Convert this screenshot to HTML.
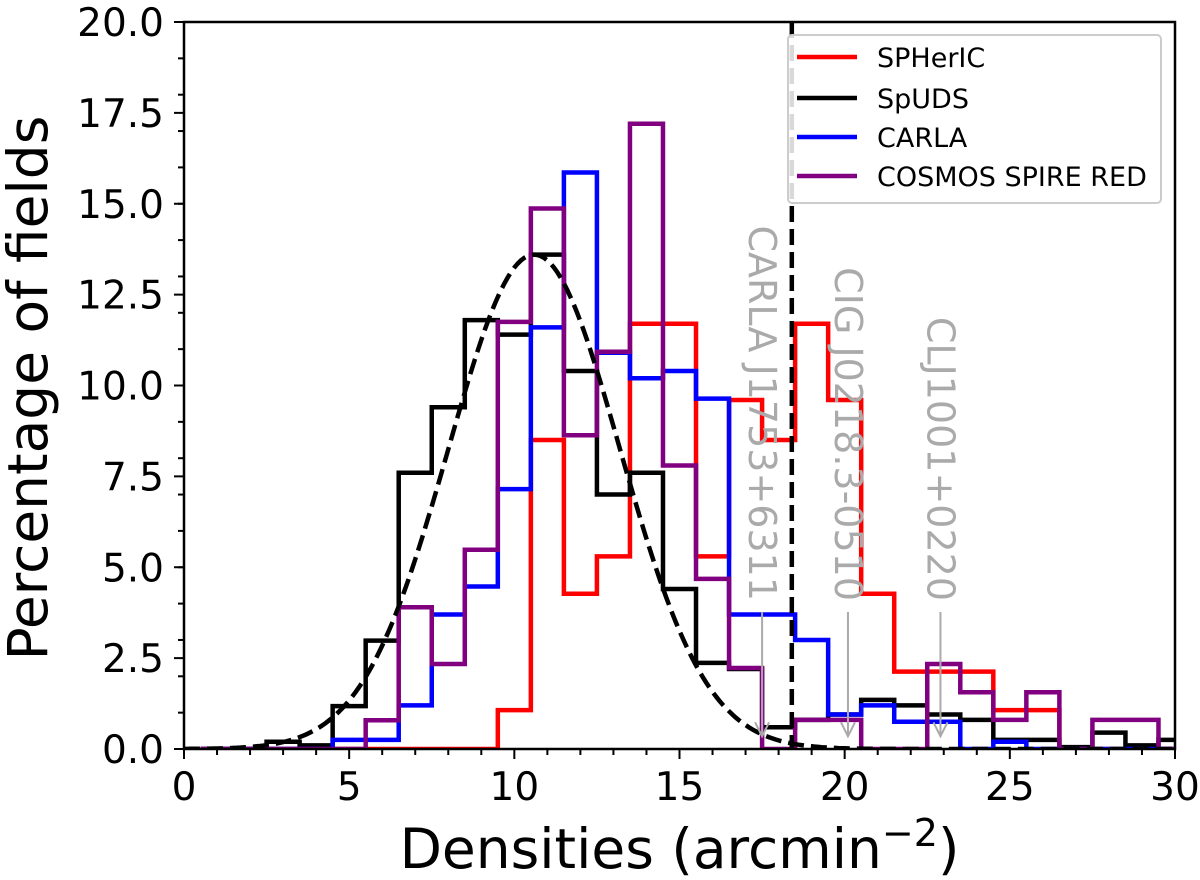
<!DOCTYPE html>
<html><head><meta charset="utf-8"><style>
html,body{margin:0;padding:0;background:#fff;}
svg{display:block;font-family:"DejaVu Sans","Liberation Sans",sans-serif;}
</style></head><body>
<svg id="chart" width="1200" height="880" viewBox="0 0 1200 880" xmlns="http://www.w3.org/2000/svg">
<g id="plot"></g>
</svg>
<script>
// bin left edges start at 0.5 with width 1
const binStart = 0.5;
const spheric = [0,0,0,0,0,0,0,0,0,1.07,8.5,4.27,5.3,11.7,11.7,5.3,9.6,8.5,11.7,9.6,4.27,2.13,2.13,2.13,1.07,1.07,0,0,0,0];
const spuds   = [0,0,0.2,0.1,1.18,2.98,7.6,9.4,11.8,11.4,13.6,10.4,7.0,7.6,4.4,2.37,2.2,0.6,0.8,0.95,1.35,1.2,0.95,0.8,0.25,0.25,0.05,0.45,0.1,0.25];
const carla   = [0,0,0,0,0.25,0.25,1.2,3.7,4.47,7.15,11.6,15.86,10.9,10.2,10.4,9.64,3.7,3.7,3.0,0.95,1.2,0.75,0.75,0,0.2,0,0,0,0,0];
const cosmos  = [0,0,0,0,0,0.79,3.9,2.34,5.48,11.75,14.87,8.63,10.93,17.2,7.8,4.68,2.23,0,0.8,0.8,0,0,2.34,1.56,0.8,1.56,0,0.8,0.8,0];
const seriesNames = ["SPHerIC","SpUDS","CARLA","COSMOS SPIRE RED"];
const seriesColors = ["#ff0000","#000000","#0000ff","#800080"];
const gaussPeak = 13.6, gaussMu = 10.6, gaussSigma = 2.6;
const cutLine = 18.4;
const annotX = [17.5, 20.1, 22.9];
const annotLabels = ["CARLA J1753+6311","CIG J0218.3-0510","CLJ1001+0220"];
const xTicks = [0,5,10,15,20,25,30];
const yTicks = [0,2.5,5,7.5,10,12.5,15,17.5,20];

const X0=184, X1=1175, Y0=749, Y1=22;
const sx = v => X0 + (v/30)*(X1-X0);
const sy = v => Y0 - (v/20)*(Y0-Y1);
const NS="http://www.w3.org/2000/svg";
const g=document.getElementById('plot');
function mk(tag, attrs, parent){const e=document.createElementNS(NS,tag);for(const k in attrs)e.setAttribute(k,attrs[k]);(parent||g).appendChild(e);return e;}

const defs=mk('defs',{});
const cp=mk('clipPath',{id:'clip'},defs);
mk('rect',{x:X0,y:Y1,width:X1-X0,height:Y0-Y1},cp);
const data=mk('g',{'clip-path':'url(#clip)'});

function stepPath(vals){
  let d='M'+sx(binStart)+','+sy(0);
  vals.forEach((v,i)=>{d+=' L'+sx(binStart+i)+','+sy(v)+' L'+sx(binStart+i+1)+','+sy(v);});
  d+=' L'+sx(binStart+vals.length)+','+sy(0);
  return d;
}
const allSeries=[spheric,spuds,carla,cosmos];
[0,1,2,3].forEach(i=>{
  const p=mk('path',{d:stepPath(allSeries[i]),fill:'none',stroke:seriesColors[i],'stroke-width':4.5,'stroke-linejoin':'miter'},data);
  
  
});
let gd='';
for(let k=0;k<=300;k++){const x=k*0.1;const y=gaussPeak*Math.exp(-((x-gaussMu)**2)/(2*gaussSigma**2));gd+=(k?' L':'M')+sx(x).toFixed(1)+','+sy(y).toFixed(1);}
const gp=mk('path',{d:gd,fill:'none',stroke:'#000','stroke-width':4.5,'stroke-dasharray':'16,7'},data);


const cl=mk('line',{x1:sx(cutLine),x2:sx(cutLine),y1:Y1,y2:Y0,stroke:'#000','stroke-width':4.5,'stroke-dasharray':'16,7'},data);



annotX.forEach((x,i)=>{
  const ax=sx(x);
  const a=mk('g',{});
  
  
  mk('line',{x1:ax,x2:ax,y1:612,y2:sy(0.35),stroke:'#aaa','stroke-width':2},a);
  mk('path',{d:`M${ax-7},${sy(0.35)-14} L${ax},${sy(0.35)} L${ax+7},${sy(0.35)-14}`,fill:'none',stroke:'#aaa','stroke-width':2},a);
  const t=mk('text',{x:0,y:0,transform:`translate(${ax-13},601) rotate(90)`,'text-anchor':'end','font-size':38,fill:'#aaa'});
  t.textContent=annotLabels[i];
  
  
});

mk('rect',{x:X0,y:Y1,width:X1-X0,height:Y0-Y1,fill:'none',stroke:'#000','stroke-width':2.5});
for(let v=0;v<=30;v++){const major=v%5===0;mk('line',{x1:sx(v),x2:sx(v),y1:Y0,y2:Y0+(major?10:6),stroke:'#000','stroke-width':2});}
xTicks.forEach(v=>{const t=mk('text',{x:sx(v),y:800,'text-anchor':'middle','font-size':39,fill:'#000'});t.textContent=String(v);
  
  });
for(let v=0;v<=20;v++){mk('line',{x1:X0,x2:X0-6,y1:sy(v),y2:sy(v),stroke:'#000','stroke-width':2});}
yTicks.forEach(v=>{mk('line',{x1:X0,x2:X0-10,y1:sy(v),y2:sy(v),stroke:'#000','stroke-width':2});
  const t=mk('text',{x:X0-20,y:sy(v)+14,'text-anchor':'end','font-size':39,fill:'#000'});t.textContent=v.toFixed(1);
  
  });
const xl=mk('text',{x:(X0+X1)/2,y:868,'text-anchor':'middle','font-size':55,fill:'#000'});
xl.innerHTML='Densities (arcmin<tspan dy="-22" font-size="38">−2</tspan><tspan dy="22">)</tspan>';


const yl=mk('text',{x:0,y:0,transform:`translate(47,388) rotate(-90)`,'text-anchor':'middle','font-size':55,fill:'#000'});
yl.textContent='Percentage of fields';



const lg=mk('g',{});


mk('rect',{x:788,y:35,width:373,height:168,rx:4,fill:'rgba(255,255,255,0.85)',stroke:'#ccc','stroke-width':2},lg);
const rows=[57,98,137,176];
seriesNames.forEach((n,i)=>{
  const e=mk('g',{},lg);
  
  
  mk('line',{x1:797,x2:857,y1:rows[i],y2:rows[i],stroke:seriesColors[i],'stroke-width':4.5},e);
  const t=mk('text',{x:877,y:rows[i]+10,'font-size':27,fill:'#000'},e);t.textContent=n;
});
</script>
</body></html>
